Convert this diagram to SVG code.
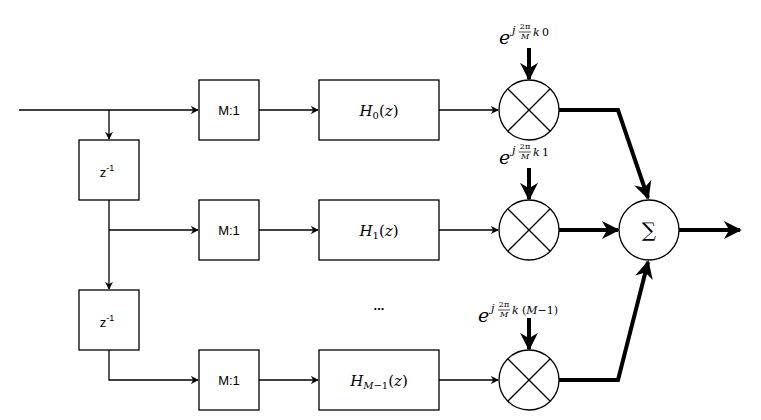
<svg xmlns="http://www.w3.org/2000/svg" width="761" height="420" viewBox="0 0 761 420">
<style>
.b{fill:#fff;stroke:#000;stroke-width:1.3}
.t{font-family:"Liberation Sans",Arial,sans-serif;font-size:13px;text-anchor:middle}
.m{font-family:"DejaVu Serif","Liberation Serif",serif;font-style:italic}
.r{font-family:"DejaVu Serif","Liberation Serif",serif;font-style:normal}
.l{fill:none;stroke:#000;stroke-width:1.3}
.k{fill:none;stroke:#000;stroke-width:4}
</style>
<defs>
<marker id="a" viewBox="0 0 10 10" refX="9" refY="5" markerWidth="8" markerHeight="8" markerUnits="userSpaceOnUse" orient="auto"><path d="M0,0 L10,5 L0,10 L3,5z"/></marker>
<marker id="A" viewBox="0 0 10 10" refX="9" refY="5" markerWidth="4.5" markerHeight="4.5" orient="auto"><path d="M0,0 L10,5 L0,10 L3,5z"/></marker>
</defs>
<g id="connectors">
<path class="l" d="M19,110H198" marker-end="url(#a)"/>
<path class="l" d="M109,110V139" marker-end="url(#a)"/>
<path class="l" d="M109,200V289" marker-end="url(#a)"/>
<path class="l" d="M109,230H198" marker-end="url(#a)"/>
<path class="l" d="M109,350V380H198" marker-end="url(#a)"/>
<path class="l" d="M259,110H318" marker-end="url(#a)"/>
<path class="l" d="M259,230H318" marker-end="url(#a)"/>
<path class="l" d="M259,380H318" marker-end="url(#a)"/>
<path class="l" d="M439,110H498" marker-end="url(#a)"/>
<path class="l" d="M439,230H498" marker-end="url(#a)"/>
<path class="l" d="M439,380H498" marker-end="url(#a)"/>
<path class="k" d="M529,48V79" marker-end="url(#A)"/>
<path class="k" d="M529,168V199" marker-end="url(#A)"/>
<path class="k" d="M529,318V349" marker-end="url(#A)"/>
<path class="k" d="M559,110H618L648,198" marker-end="url(#A)"/>
<path class="k" d="M559,230H618" marker-end="url(#A)"/>
<path class="k" d="M559,380H618L648,262" marker-end="url(#A)"/>
<path class="k" d="M679,230H740" marker-end="url(#A)"/>
</g>
<g id="in1"><rect class="b" x="199" y="80" width="60" height="60"/><text class="t" x="229" y="115">M:1</text></g>
<g id="in2"><rect class="b" x="199" y="200" width="60" height="60"/><text class="t" x="229" y="235">M:1</text></g>
<g id="in3"><rect class="b" x="199" y="350" width="60" height="60"/><text class="t" x="229" y="385">M:1</text></g>
<g id="z1"><rect class="b" x="79" y="140" width="60" height="60"/><text class="t" x="107" y="177">z<tspan font-size="9" dy="-6">-1</tspan></text></g>
<g id="z2"><rect class="b" x="79" y="290" width="60" height="60"/><text class="t" x="107" y="327">z<tspan font-size="9" dy="-6">-1</tspan></text></g>
<g id="h0"><rect class="b" x="319" y="80" width="120" height="60"/><text x="379" y="116" font-size="15" text-anchor="middle"><tspan class="m">H</tspan><tspan class="r" font-size="10" dy="3">0</tspan><tspan class="r" dy="-3">(</tspan><tspan class="m">z</tspan><tspan class="r">)</tspan></text></g>
<g id="h1"><rect class="b" x="319" y="200" width="120" height="60"/><text x="379" y="236" font-size="15" text-anchor="middle"><tspan class="m">H</tspan><tspan class="r" font-size="10" dy="3">1</tspan><tspan class="r" dy="-3">(</tspan><tspan class="m">z</tspan><tspan class="r">)</tspan></text></g>
<g id="h2"><rect class="b" x="319" y="350" width="120" height="60"/><text x="379" y="386" font-size="15" text-anchor="middle"><tspan class="m">H</tspan><tspan font-size="10" dy="3"><tspan class="m">M</tspan><tspan class="r">−1</tspan></tspan><tspan class="r" dy="-3">(</tspan><tspan class="m">z</tspan><tspan class="r">)</tspan></text></g>
<g id="dots"><text class="t" x="379" y="310" font-size="16" font-weight="bold">...</text></g>
<g id="x0"><circle class="b" cx="529" cy="110" r="30"/><path class="l" d="M508,89L550,131M550,89L508,131"/></g>
<g id="x1"><circle class="b" cx="529" cy="230" r="30"/><path class="l" d="M508,209L550,251M550,209L508,251"/></g>
<g id="x2"><circle class="b" cx="529" cy="380" r="30"/><path class="l" d="M508,359L550,401M550,359L508,401"/></g>
<g id="sum"><circle class="b" cx="649" cy="230" r="30"/><text x="649" y="237" font-size="20" text-anchor="middle" class="r">∑</text></g>
<g id="e0" font-size="11"><text x="499" y="44" class="m" font-size="19">e</text><text x="512" y="34" class="m">j</text><text x="525" y="29" class="r" font-size="8" text-anchor="middle">2π</text><path d="M519,32H531" stroke="#000" stroke-width="0.7"/><text x="525" y="39" class="m" font-size="8" text-anchor="middle">M</text><text x="533" y="36" class="m">k</text><text x="542" y="36" class="r">0</text></g>
<g id="e1" font-size="11"><text x="499" y="164" class="m" font-size="19">e</text><text x="512" y="154" class="m">j</text><text x="525" y="149" class="r" font-size="8" text-anchor="middle">2π</text><path d="M519,152H531" stroke="#000" stroke-width="0.7"/><text x="525" y="159" class="m" font-size="8" text-anchor="middle">M</text><text x="533" y="156" class="m">k</text><text x="542" y="156" class="r">1</text></g>
<g id="e2" font-size="11"><text x="478" y="322" class="m" font-size="19">e</text><text x="491" y="312" class="m">j</text><text x="504" y="307" class="r" font-size="8" text-anchor="middle">2π</text><path d="M498,310H510" stroke="#000" stroke-width="0.7"/><text x="504" y="317" class="m" font-size="8" text-anchor="middle">M</text><text x="512" y="314" class="m">k</text><text x="522" y="314" class="r">(<tspan class="m">M</tspan>−1)</text></g>
</svg>
